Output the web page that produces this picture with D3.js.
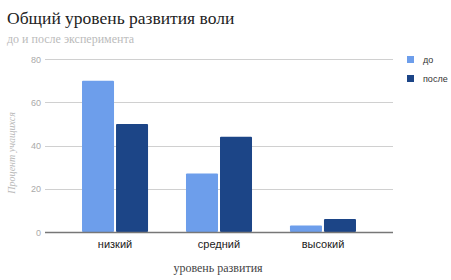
<!DOCTYPE html>
<html>
<head>
<meta charset="utf-8">
<script src="https://cdn.jsdelivr.net/npm/d3@7"></script>
<style>
  body { margin: 0; background: #fff; }
  svg { display: block; }
</style>
</head>
<body>
<svg id="chart"></svg>
<script>
// data
var categories = ["низкий", "средний", "высокий"];
var seriesNames = ["до", "после"];
var before = [70, 27, 3];
var after = [50, 44, 6];
var yTicks = [0, 20, 40, 60, 80];
var colors = ["#6d9eeb", "#1c4587"];

var w = 451, h = 280;
var plotLeft = 45, plotRight = 393, plotTop = 59, plotBottom = 232;

var svg = d3.select("#chart").attr("width", w).attr("height", h);

var rows = categories.map(function(c, i) {
    return {cat: c, values: [before[i], after[i]]};
});

var y = d3.scaleLinear().domain([0, 80]).range([plotBottom, plotTop]);
var x0 = d3.scaleBand().domain(categories).range([plotLeft, plotRight])
    .paddingInner(0.365).paddingOuter(0.356);
var x1 = d3.scaleBand().domain(d3.range(seriesNames.length)).range([0, x0.bandwidth()]);

// gridlines
svg.append("g").selectAll("line")
    .data(yTicks.filter(function(t) { return t > 0; }))
    .enter().append("line")
    .attr("x1", plotLeft).attr("x2", plotRight)
    .attr("y1", function(d) { return Math.round(y(d)) + 0.5; })
    .attr("y2", function(d) { return Math.round(y(d)) + 0.5; })
    .attr("stroke", "#d0d0d0");

// y tick labels
svg.append("g").selectAll("text")
    .data(yTicks)
    .enter().append("text")
    .attr("x", 41).attr("y", function(d) { return y(d) + 3.5; })
    .attr("text-anchor", "end")
    .style("font-family", "Liberation Sans, Arial, sans-serif")
    .style("font-size", "9px")
    .attr("fill", "#aaa")
    .text(function(d) { return d; });

// bars
var groups = svg.append("g").selectAll("g")
    .data(rows)
    .enter().append("g")
    .attr("transform", function(d) { return "translate(" + x0(d.cat) + ",0)"; });

groups.selectAll("rect")
    .data(function(d) { return d.values; })
    .enter().append("rect")
    .attr("x", function(d, i) { return x1(i) + (i == 1 ? 1 : 0); })
    .attr("y", function(d) { return y(d); })
    .attr("width", x1.bandwidth() - 1)
    .attr("height", function(d) { return plotBottom - y(d); })
    .attr("rx", 1)
    .attr("fill", function(d, i) { return colors[i]; });

// baseline
svg.append("line")
    .attr("x1", plotLeft).attr("x2", plotRight)
    .attr("y1", plotBottom + 0.5).attr("y2", plotBottom + 0.5)
    .attr("stroke", "#777").attr("stroke-width", 1.3);

// category labels
var xAxis = svg.append("g")
    .attr("transform", "translate(0," + plotBottom + ")")
    .call(d3.axisBottom(x0).tickSize(0).tickPadding(8));
xAxis.select(".domain").remove();
xAxis.selectAll("text")
    .style("font-family", "Liberation Sans, Arial, sans-serif")
    .style("font-size", "11px")
    .attr("fill", "#222");

// titles
svg.append("text")
    .attr("x", 7).attr("y", 24)
    .style("font-family", "Liberation Serif, Georgia, serif")
    .style("font-size", "17.5px")
    .attr("fill", "#222")
    .text("Общий уровень развития воли");
svg.append("text")
    .attr("x", 7).attr("y", 43)
    .style("font-family", "Liberation Serif, Georgia, serif")
    .style("font-size", "12px")
    .attr("fill", "#bbb")
    .text("до и после эксперимента");

svg.append("text")
    .attr("x", 218).attr("y", 272)
    .attr("text-anchor", "middle")
    .style("font-family", "Liberation Serif, Georgia, serif")
    .style("font-size", "12px")
    .attr("fill", "#444")
    .text("уровень развития");

svg.append("text")
    .attr("transform", "translate(15,153) rotate(-90)")
    .attr("text-anchor", "middle")
    .style("font-family", "Liberation Serif, Georgia, serif")
    .style("font-style", "italic")
    .style("font-size", "10px")
    .attr("fill", "#bbb")
    .text("Процент учащихся");

// legend
var legend = svg.append("g").selectAll("g")
    .data(seriesNames)
    .enter().append("g")
    .attr("transform", function(d, i) { return "translate(407," + (56 + i * 19) + ")"; });
legend.append("rect")
    .attr("width", 7).attr("height", 7)
    .attr("fill", function(d, i) { return colors[i]; });
legend.append("text")
    .attr("x", 16).attr("y", 7)
    .style("font-family", "Liberation Sans, Arial, sans-serif")
    .style("font-size", "9px")
    .attr("fill", "#333")
    .text(function(d) { return d; });
</script>
</body>
</html>
